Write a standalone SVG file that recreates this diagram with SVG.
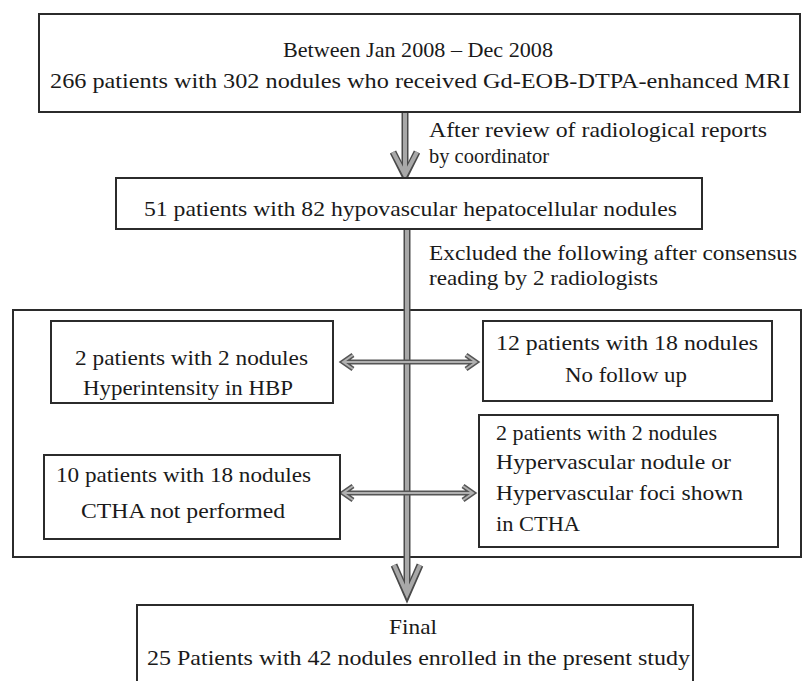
<svg xmlns="http://www.w3.org/2000/svg" width="802" height="681" viewBox="0 0 802 681">
<style>
.box{fill:#fff;stroke:#2b2b2b;stroke-width:2}
.frame{fill:none;stroke:#2b2b2b;stroke-width:2}
.sh-o{fill:none;stroke:#4a4a4a;stroke-width:7;stroke-linecap:butt;stroke-linejoin:miter}
.sh-i{fill:none;stroke:#a8a8a8;stroke-width:4;stroke-linecap:butt;stroke-linejoin:miter}
.th-o{fill:none;stroke:#555;stroke-width:5}
.th-i{fill:none;stroke:#b0b0b0;stroke-width:2}
</style>
<rect width="802" height="681" fill="#fff"/>

<g id="exclusion-frame">
<rect class="frame" x="13" y="310" width="788" height="247"/>
</g>

<g id="connectors">
<path class="sh-o" d="M405,112 V176"/>
<path class="sh-o" d="M393,152 L405,176 L417,152"/>
<path class="sh-i" d="M405,112 V174"/>
<path class="sh-i" d="M393,152 L405,175 L417,152"/>
<path class="sh-o" d="M407,229 V595"/>
<path class="sh-o" d="M394,565 L407,595 L420,565"/>
<path class="sh-i" d="M407,229 V593"/>
<path class="sh-i" d="M394,565 L407,594 L420,565"/>
<path class="th-o" d="M343,362 H476 M353,355 L343,362 L353,369 M466,355 L476,362 L466,369"/>
<path class="th-i" d="M343,362 H476 M353,355 L343,362 L353,369 M466,355 L476,362 L466,369"/>
<path class="th-o" d="M343,493 H473 M353,486 L343,493 L353,500 M463,486 L473,493 L463,500"/>
<path class="th-i" d="M343,493 H473 M353,486 L343,493 L353,500 M463,486 L473,493 L463,500"/>
</g>

<g font-family="Times New Roman" font-size="22" fill="#1a1a1a" style="font-family:'Times New Roman','Liberation Serif',serif">
<g id="n-start">
<rect class="box" x="39" y="14" width="761" height="98"/>
<text x="418" y="57" text-anchor="middle" textLength="270" lengthAdjust="spacingAndGlyphs">Between Jan 2008 – Dec 2008</text>
<text x="50" y="88" textLength="740" lengthAdjust="spacingAndGlyphs">266 patients with 302 nodules who received Gd-EOB-DTPA-enhanced MRI</text>
</g>

<g id="l-review">
<text x="429" y="137" textLength="338" lengthAdjust="spacingAndGlyphs">After review of radiological  reports</text>
<text x="429" y="163" textLength="120" lengthAdjust="spacingAndGlyphs">by coordinator</text>
</g>

<g id="n-51">
<rect class="box" x="116" y="178" width="586" height="51"/>
<text x="144" y="216" textLength="533" lengthAdjust="spacingAndGlyphs">51 patients with 82 hypovascular hepatocellular nodules</text>
</g>

<g id="l-excluded">
<text x="429" y="260" textLength="368" lengthAdjust="spacingAndGlyphs">Excluded the following  after consensus</text>
<text x="429" y="285" textLength="229" lengthAdjust="spacingAndGlyphs">reading by 2 radiologists</text>
</g>

<g id="n-hbp">
<rect class="box" x="51" y="321" width="282" height="82"/>
<text x="75" y="365" textLength="233" lengthAdjust="spacingAndGlyphs">2 patients with 2 nodules</text>
<text x="83" y="395" textLength="210" lengthAdjust="spacingAndGlyphs">Hyperintensity in HBP</text>
</g>

<g id="n-nofollow">
<rect class="box" x="483" y="321" width="289" height="80"/>
<text x="496" y="350" textLength="262" lengthAdjust="spacingAndGlyphs">12 patients with 18 nodules</text>
<text x="565" y="382" textLength="122" lengthAdjust="spacingAndGlyphs">No follow up</text>
</g>

<g id="n-cthanot">
<rect class="box" x="44" y="455" width="296" height="84"/>
<text x="56" y="482" textLength="255" lengthAdjust="spacingAndGlyphs">10 patients with 18 nodules</text>
<text x="81" y="518" textLength="204" lengthAdjust="spacingAndGlyphs">CTHA not performed</text>
</g>

<g id="n-hypervascular">
<rect class="box" x="479" y="415" width="299" height="132"/>
<text x="496" y="440" textLength="221" lengthAdjust="spacingAndGlyphs">2 patients with 2 nodules</text>
<text x="496" y="469" textLength="235" lengthAdjust="spacingAndGlyphs">Hypervascular nodule or</text>
<text x="496" y="500" textLength="247" lengthAdjust="spacingAndGlyphs">Hypervascular foci  shown</text>
<text x="496" y="531" textLength="84" lengthAdjust="spacingAndGlyphs">in CTHA</text>
</g>

<g id="n-final">
<rect class="box" x="137" y="605" width="556" height="90"/>
<text x="413" y="634" text-anchor="middle" textLength="48" lengthAdjust="spacingAndGlyphs">Final</text>
<text x="147" y="665" textLength="543" lengthAdjust="spacingAndGlyphs">25  Patients with 42 nodules enrolled in the present study</text>
</g>
</g>
</svg>
